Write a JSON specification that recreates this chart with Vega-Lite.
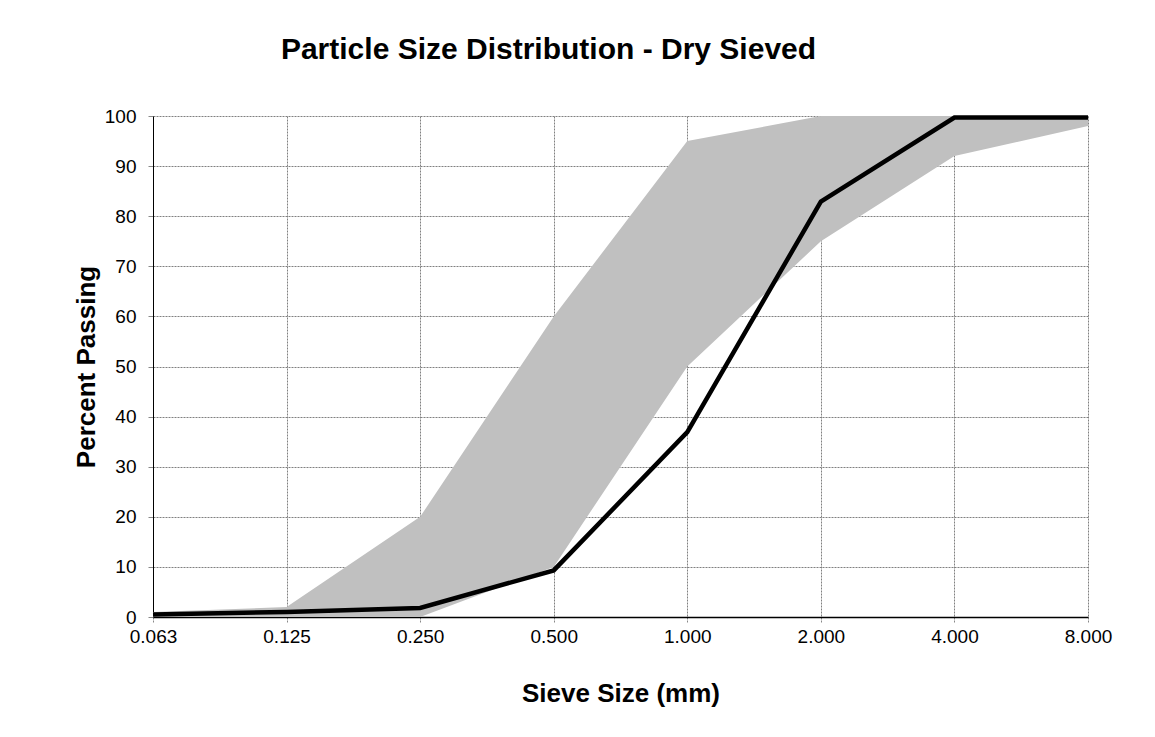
{
  "$schema": "https://vega.github.io/schema/vega-lite/v6.json",
  "width": 935,
  "height": 501,
  "autosize": {"type": "none"},
  "padding": {"left": 153, "top": 116, "right": 67, "bottom": 120},
  "background": "white",
  "title": {
    "text": "Particle Size Distribution - Dry Sieved",
    "font": "Liberation Sans",
    "fontSize": 30,
    "fontWeight": "bold",
    "color": "black",
    "anchor": "middle",
    "dx": -72,
    "offset": 42
  },
  "data": {
    "values": [
      {"size": "0.063", "lower": 0, "upper": 1, "passing": 0.5},
      {"size": "0.125", "lower": 0, "upper": 2, "passing": 1.0},
      {"size": "0.250", "lower": 0, "upper": 20, "passing": 1.8},
      {"size": "0.500", "lower": 10, "upper": 60, "passing": 9.3},
      {"size": "1.000", "lower": 50, "upper": 95, "passing": 36.9},
      {"size": "2.000", "lower": 75, "upper": 100, "passing": 82.9},
      {"size": "4.000", "lower": 92, "upper": 100, "passing": 99.7},
      {"size": "8.000", "lower": 98, "upper": 100, "passing": 99.7}
    ]
  },
  "encoding": {
    "x": {
      "field": "size",
      "type": "ordinal",
      "sort": null,
      "scale": {"type": "point", "padding": 0},
      "title": "Sieve Size (mm)",
      "axis": {
        "labelAngle": 0,
        "labelFont": "Liberation Sans",
        "labelFontSize": 19,
        "labelColor": "black",
        "labelPadding": 4,
        "titleFont": "Liberation Sans",
        "titleFontSize": 26,
        "titleFontWeight": "bold",
        "titleColor": "black",
        "titlePadding": 34,
        "domainColor": "black",
        "domainWidth": 1.5,
        "tickColor": "#888888",
        "tickSize": 6,
        "tickDash": [2, 1],
        "grid": true,
        "gridColor": "#808080",
        "gridDash": [2, 1],
        "gridWidth": 1
      }
    }
  },
  "layer": [
    {
      "mark": {"type": "area", "color": "#c0c0c0", "opacity": 1, "clip": true},
      "encoding": {
        "y": {
          "field": "upper",
          "type": "quantitative",
          "scale": {"domain": [0, 100], "nice": false},
          "title": "Percent Passing",
          "axis": {
            "values": [0, 10, 20, 30, 40, 50, 60, 70, 80, 90, 100],
            "labelFont": "Liberation Sans",
            "labelFontSize": 19,
            "labelColor": "black",
            "labelPadding": 12,
            "titleFont": "Liberation Sans",
            "titleFontSize": 26,
            "titleFontWeight": "bold",
            "titleColor": "black",
            "titlePadding": 5,
            "domainColor": "black",
            "domainWidth": 1,
            "tickColor": "#888888",
            "tickSize": 5,
            "grid": true,
            "gridColor": "#808080",
            "gridDash": [2, 1],
            "gridWidth": 1
          }
        },
        "y2": {"field": "lower"}
      }
    },
    {
      "mark": {"type": "line", "color": "black", "strokeWidth": 4.5, "strokeJoin": "miter"},
      "encoding": {
        "y": {"field": "passing", "type": "quantitative"}
      }
    }
  ],
  "config": {
    "view": {"stroke": null},
    "axis": {"gridOpacity": 1}
  }
}
